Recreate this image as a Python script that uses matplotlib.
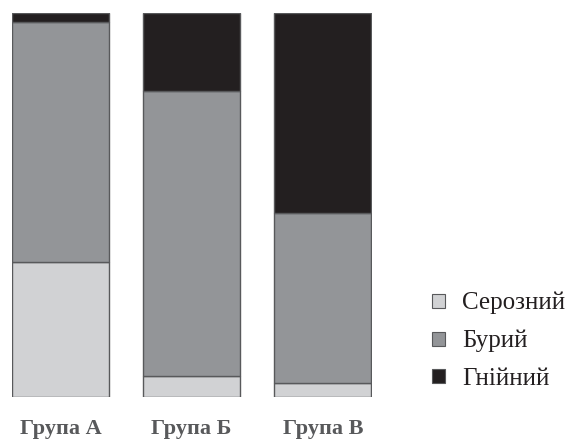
import matplotlib.pyplot as plt
from matplotlib.patches import Patch

# Дані (частки, %)
groups = ["Група А", "Група Б", "Група В"]
series = ["Серозний", "Бурий", "Гнійний"]
serous = [35.2, 5.5, 3.6]
brown = [62.5, 74.2, 44.3]
purulent = [2.3, 20.3, 52.1]
colors = ["#d1d2d4", "#939598", "#231f20"]

W, H = 569, 442
fig = plt.figure(figsize=(W / 100, H / 100), dpi=100)

# Осі в піксельних координатах
left_px, right_px, top_px, bottom_px = 12, 372, 13, 397
ax = fig.add_axes([left_px / W, (H - bottom_px) / H,
                   (right_px - left_px) / W, (bottom_px - top_px) / H])

width = 0.74
x = list(range(len(groups)))
bottoms = [0] * len(groups)
for vals, col in zip([serous, brown, purulent], colors):
    ax.bar(x, vals, width=width, bottom=bottoms, color=col,
           edgecolor="#58595b", linewidth=1.0)
    bottoms = [b + v for b, v in zip(bottoms, vals)]

ax.set_xlim(-width / 2, 2 + width / 2 + 0.005)
ax.set_ylim(0, 100)
ax.axis("off")

for xi, g in zip(x, groups):
    ax.text(xi, -8.4, g, ha="center", va="center", fontsize=16,
            fontweight="bold", family="Liberation Serif", color="#58595b")

handles = [Patch(facecolor=c, edgecolor="#58595b", linewidth=0.8) for c in colors]
leg = fig.legend(handles, series, loc="center left",
                 bbox_to_anchor=(432 / W, (H - 341) / H), frameon=False,
                 prop={"family": "Liberation Serif", "size": 18},
                 handlelength=0.5, handleheight=0.5, handletextpad=0.7,
                 labelspacing=0.62, borderpad=0, borderaxespad=0)
for t in leg.get_texts():
    t.set_color("#231f20")

fig.savefig("out.png", dpi=100)
